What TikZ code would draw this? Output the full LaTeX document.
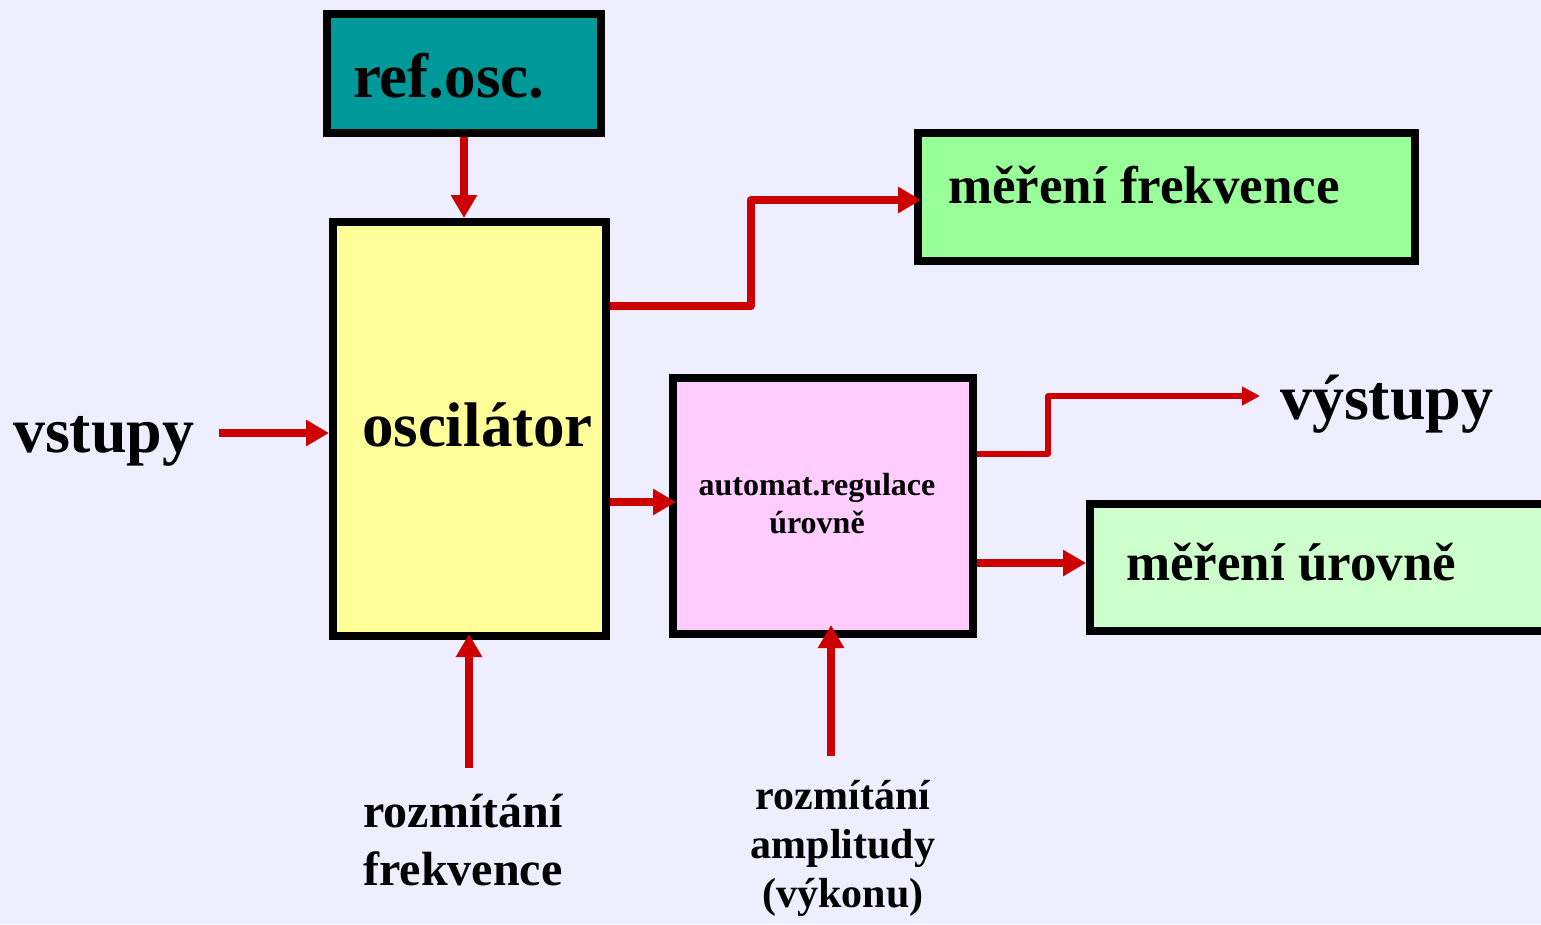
\documentclass[tikz,border=0pt]{standalone}
\usepackage{fontspec}
\setmainfont{Liberation Serif}
\usetikzlibrary{arrows.meta}
\definecolor{bgcol}{HTML}{EEEEFF}
\definecolor{tealbox}{HTML}{009999}
\definecolor{yellowbox}{HTML}{FFFF99}
\definecolor{greenbox}{HTML}{99FF99}
\definecolor{pinkbox}{HTML}{FFCCFF}
\definecolor{palegreenbox}{HTML}{CCFFCC}
\definecolor{sigred}{HTML}{CC0000}
\begin{document}
\begin{tikzpicture}[x=1pt,y=-1pt,
  block/.style={draw=black, line width=8pt, rectangle, inner sep=0pt},
  arr/.style={draw=sigred, line width=8pt, line join=round,
    -{Triangle[width=25pt,length=23pt]}},
  thinarr/.style={draw=sigred, line width=5.5pt, line join=round,
    -{Triangle[width=18pt,length=18pt]}},
  txt/.style={inner sep=0pt, outer sep=0pt},
  fbig/.style={font=\fontsize{64}{72}\selectfont\bfseries},
  fbox/.style={font=\fontsize{63}{72}\selectfont\bfseries},
  fmid/.style={font=\fontsize{53}{60}\selectfont\bfseries},
  fsmall/.style={font=\fontsize{32}{38}\selectfont\bfseries}]
\path[use as bounding box, fill=bgcol] (0,0) rectangle (1541,924);
\clip (0,0) rectangle (1541,924);

% blocks
\node[block, fill=tealbox, minimum width=274pt, minimum height=119pt] (ref) at (464,73.5) {};
\node[block, fill=yellowbox, minimum width=273pt, minimum height=414pt] (osc) at (469.5,429) {};
\node[block, fill=greenbox, minimum width=497pt, minimum height=128pt] (mf) at (1166.5,197) {};
\node[block, fill=pinkbox, minimum width=300pt, minimum height=256pt] (ar) at (823,506) {};
\node[block, fill=palegreenbox, minimum width=560pt, minimum height=127pt] (mu) at (1370,567.5) {};

% block texts
\node[txt, fbox, anchor=base west] (refT) at (353,97) {ref.osc.};
\node[txt, fbox, anchor=base west] (oscT) at (362,446) {oscilátor};
\node[txt, fmid, anchor=base west] (mfT) at (948,203) {měření frekvence};
\node[txt, fmid, anchor=base west] (muT) at (1126,580) {měření úrovně};
\node[txt, fsmall, align=center, anchor=base] (arT) at (817,533) {automat.regulace\\úrovně};

% free labels
\node[txt, fbig, anchor=base west] (inT) at (13,452) {vstupy};
\node[txt, fbig, anchor=base west] (outT) at (1280,419) {výstupy};
\node[txt, font=\fontsize{48}{58}\selectfont\bfseries, align=center, anchor=base] (sweepF) at (463,885) {rozmítání\\frekvence};
\node[txt, font=\fontsize{42}{49}\selectfont\bfseries, align=center, anchor=base] (sweepA) at (843,907) {rozmítání\\amplitudy\\(výkonu)};

% connectors
\draw[arr] (ref.south) -- (ref.south |- osc.north);
\coordinate (vin) at (219,433);
\draw[arr] (vin) -- (vin -| osc.west);
\coordinate (b1) at (751,306);
\coordinate (b2) at (751,200);
\draw[arr, shorten >=-7pt] (osc.east |- b1) -- (b1) -- (b2) -- (b2 -| mf.west);
\coordinate (b3) at (700,502);
\draw[arr, shorten >=-7pt] (osc.east |- b3) -- (b3 -| ar.west);
\coordinate (b4) at (1048,454);
\coordinate (b5) at (1048,396);
\coordinate (vout) at (1260,396);
\draw[thinarr] (ar.east |- b4) -- (b4) -- (b5) -- (vout);
\coordinate (b6) at (1030,563);
\draw[arr] (ar.east |- b6) -- (b6 -| mu.west);
\coordinate (fa) at (469,768);
\draw[arr, shorten >=-6pt] (fa) -- (fa |- osc.south);
\coordinate (fb) at (831,756);
\draw[arr, shorten >=-13pt] (fb) -- (fb |- ar.south);
\end{tikzpicture}
\end{document}
